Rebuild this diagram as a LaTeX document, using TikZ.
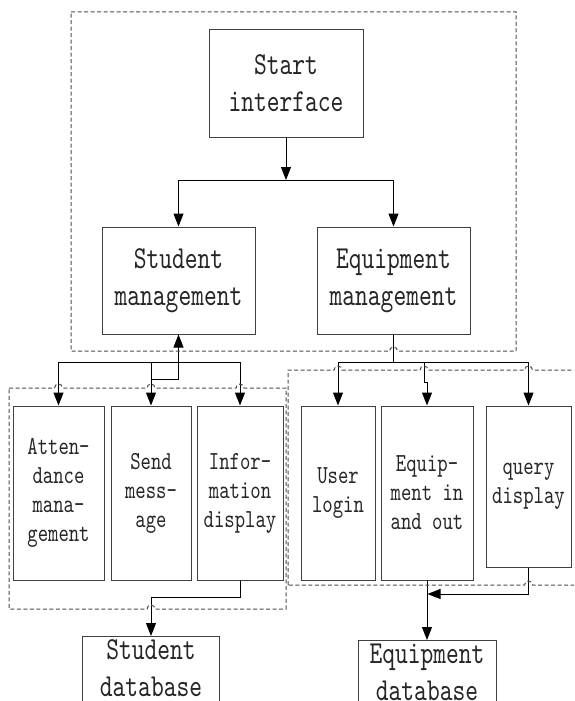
\documentclass[tikz,border=0pt]{standalone}
\usepackage{fontspec}
\newfontfamily\boxfont{lmmono10-regular.otf}[FakeStretch=0.76]
\usetikzlibrary{arrows.meta}
\begin{document}
\begin{tikzpicture}[x=1pt,y=-1pt,
  box/.style={draw=black!75, line width=1pt, align=center, inner sep=0pt, text=black!85},
  big/.style={box, font=\boxfont\fontsize{32}{37}\selectfont},
  small/.style={box, font=\boxfont\fontsize{26}{29}\selectfont},
  dbbox/.style={big, anchor=north, inner ysep=3.5pt, text depth=14pt},
  arr/.style={line width=1pt, -{Triangle[length=13pt,width=10pt]}},
  link/.style={line width=1pt},
  grp/.style={draw=black!70, line width=1pt, dash pattern=on 4pt off 2.5pt}]
\useasboundingbox (0,0) rectangle (574,701);
\clip (0,0) rectangle (574,701);

% module boxes
\node[big, minimum width=154pt, minimum height=107pt] (start) at (286,83.5) {Start\\interface};
\node[big, minimum width=153pt, minimum height=107pt] (stu) at (178.5,280.5) {Student\\management};
\node[big, minimum width=153pt, minimum height=107pt] (equ) at (393.5,280.5) {Equipment\\management};

\node[small, minimum width=91pt, minimum height=174pt] (att) at (58.5,493) {Atten-\\dance\\mana-\\gement};
\node[small, minimum width=80pt, minimum height=174pt] (send) at (151,493) {Send\\mess-\\age};
\node[small, minimum width=86pt, minimum height=174pt] (info) at (240,493) {Infor-\\mation\\display};
\node[small, minimum width=74pt, minimum height=174pt] (user) at (338,493) {User\\login};
\node[small, minimum width=92pt, minimum height=174pt] (eio) at (427,493) {Equip-\\ment in\\and out};
\node[small, minimum width=85pt, minimum height=161pt] (query) at (528.5,486.5) {query\\display};

% database boxes run on past the lower edge
\node[dbbox, minimum width=137pt] (sdb) at (151,636) {Student\\database};
\node[dbbox, minimum width=138pt] (edb) at (427,640) {Equipment\\database};

% top level connectors
\coordinate (j1) at (286,180);
\draw[arr] (start) -- (j1);
\draw[arr] (j1) -| (stu);
\draw[arr] (j1) -| (equ);

% student branch
\coordinate (lb1) at (58.5,362);
\coordinate (lb2) at (151,362);
\coordinate (lb3) at (240,362);
\coordinate (sm) at (151,379);
\draw[link] (lb1) -- (lb3);
\draw[arr] (lb1) -- (att);
\draw[arr] (lb2) -- (send);
\draw[arr] (lb3) -- (info);
\draw[arr] (sm) -| (stu);

% equipment branch
\coordinate (rb0) at (393.5,362);
\coordinate (rb1) at (338,362);
\coordinate (rb2) at (424,362);
\coordinate (rb3) at (528.5,362);
\coordinate (k1) at (424,382);
\coordinate (k2) at (427,382);
\draw[link] (equ) -- (rb0);
\draw[link] (rb1) -- (rb3);
\draw[arr] (rb1) -- (user);
\draw[arr] (rb2) -- (k1) -- (k2) -- (eio);
\draw[arr] (rb3) -- (query);

% database connectors
\coordinate (sb) at (151,597);
\coordinate (qb) at (427.5,594);
\draw[arr] (info) |- (sb) -- (sdb);
\draw[arr] (eio) -- (edb);
\draw[arr] (query) |- (qb);

% dashed groupings with line hops
\draw[grp] (71,12) -- (516,12) -- (516,351) -- (397.5,351)
  arc[start angle=0,end angle=180,radius=4pt] -- (71,351) -- cycle;
\draw[grp] (9,388) -- (54.5,388) arc[start angle=180,end angle=0,radius=4pt]
  -- (147,388) arc[start angle=180,end angle=0,radius=4pt]
  -- (236,388) arc[start angle=180,end angle=0,radius=4pt]
  -- (286,388) -- (286,609) -- (155,609)
  arc[start angle=0,end angle=180,radius=4pt] -- (9,609) -- cycle;
\draw[grp] (288,585) -- (288,370) -- (334,370) arc[start angle=180,end angle=0,radius=4pt]
  -- (420,370) arc[start angle=180,end angle=0,radius=4pt]
  -- (524.5,370) arc[start angle=180,end angle=0,radius=4pt]
  -- (600,370) -- (600,585) -- (532.5,585)
  arc[start angle=0,end angle=180,radius=4pt] -- cycle;
\end{tikzpicture}
\end{document}
